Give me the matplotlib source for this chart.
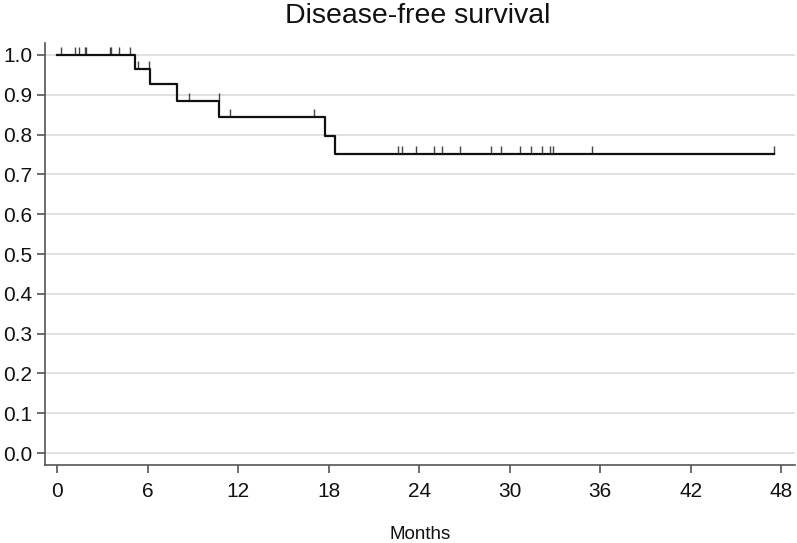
import numpy as np
import matplotlib
matplotlib.use("Agg")
import matplotlib.pyplot as plt

plt.rcParams['font.family'] = ['Liberation Sans', 'DejaVu Sans']

# Kaplan-Meier step data (months, survival after the event)
event_times = [0.0, 5.15, 6.15, 7.96, 10.75, 17.75, 18.41]
surv_levels = [1.0, 0.964, 0.927, 0.885, 0.845, 0.797, 0.751]
end_time = 47.5

# censored observations (months)
censor_times = [0.25, 1.17, 1.44, 1.85, 1.9, 3.47, 3.53, 4.11, 4.82,
                5.33, 6.1, 8.75, 10.7, 11.45, 17.04,
                22.61, 22.88, 23.79, 24.98, 25.53, 26.71, 28.74, 29.40,
                30.70, 31.39, 32.14, 32.69, 32.87, 35.46, 47.5]

x_ticks = [0, 6, 12, 18, 24, 30, 36, 42, 48]
y_ticks = [0.0, 0.1, 0.2, 0.3, 0.4, 0.5, 0.6, 0.7, 0.8, 0.9, 1.0]

fig = plt.figure(figsize=(7.97, 5.43), dpi=100)
ax = fig.add_axes([45/797, 78/543, 750/797, 422/543])

# gridlines
for yv in y_ticks:
    ax.axhline(yv, color='#dcdcdc', lw=1.2, zorder=0)

xs = event_times + [end_time]
ys = surv_levels + [surv_levels[-1]]
ax.step(xs, ys, where='post', color='#111111', lw=1.6, zorder=3)

# censor marks
ev = np.array(event_times)
lv = np.array(surv_levels)
for t in censor_times:
    idx = np.searchsorted(ev, t, side='right') - 1
    s = lv[idx]
    ax.plot([t, t], [s, s + 0.02], color='#444444', lw=1.0, zorder=2,
            solid_capstyle='butt')

ax.set_xlim(-0.82, 48.92)
ax.set_ylim(-0.03, 1.03)
ax.set_xticks(x_ticks)
ax.set_xticklabels([str(v) for v in x_ticks])
ax.set_yticks(y_ticks)
ax.set_yticklabels([f"{v:.1f}" for v in y_ticks])

for side in ['top', 'right']:
    ax.spines[side].set_visible(False)
for side in ['left', 'bottom']:
    ax.spines[side].set_color('#555555')
    ax.spines[side].set_linewidth(1.2)

ax.tick_params(axis='both', colors='#555555', length=6, width=1.2,
               labelsize=15, labelcolor='#111111', pad=3)
ax.tick_params(axis='x', pad=6)

fig.text(418/797, 1 - 16/543, 'Disease-free survival', fontsize=20.5,
         color='#111111', ha='center', va='center')
ax.set_xlabel('Months', fontsize=13.5, color='#111111', labelpad=18.5)

fig.savefig('out.png', dpi=100)
